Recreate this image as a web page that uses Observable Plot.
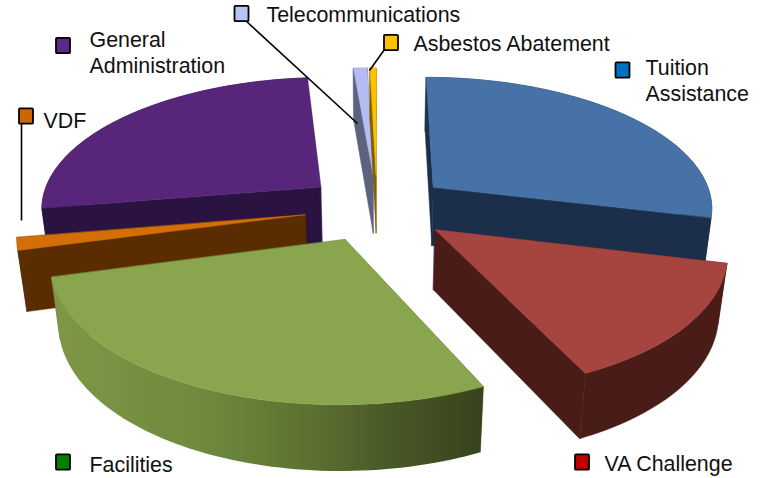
<!DOCTYPE html>
<html>
<head>
<meta charset="utf-8">
<script src="https://cdn.jsdelivr.net/npm/d3@7"></script>
<script src="https://cdn.jsdelivr.net/npm/@observablehq/plot@0.6"></script>
<style>html,body{margin:0;padding:0;background:#fff}svg{display:block}</style>
</head>
<body>
<div id="chart"></div>
<script>
// Data, clockwise from twelve o'clock
const categories = ["Tuition\nAssistance", "VA Challenge", "Facilities", "VDF", "General\nAdministration", "Telecommunications", "Asbestos Abatement"];
const shares = [28.8, 14.2, 27.85, 1.5, 26.3, 0.93, 0.42];

// Styles
const topColors = ["#4672A8", "#A64440", "#89A54E", "#D36F06", "#57267A", "#B4BCF2", "#FFC000"];
const sideColors = ["#1B2E4A", "#491C18", "#5E7432", "#5A2D00", "#2A1340", "#5C6280", "#7F6000"];
const swatchColors = ["#0070C0", "#C00000", "#007F00", "#CC6600", "#5B2A86", "#B9C4F5", "#FFC000"];
const paintOrder = [5, 6, 4, 0, 3, 1, 2];
const shadedSlice = 2;

// Layout of the labels
const labelX = [645, 604, 89, 43, 89, 266, 413];
const labelY = [79.5, 462.5, 463.5, 119, 51.5, 13, 42];
const swatchX = [622.5, 582, 63, 26, 63, 241.5, 391];
const swatchY = [70, 462, 462, 116, 45.5, 13.5, 42.5];
const leaders = [
  {x1: 21, y1: 123, x2: 21, y2: 220},
  {x1: 245, y1: 20, x2: 357, y2: 123},
  {x1: 384, y1: 49, x2: 369, y2: 70}
];

// 3-D pie camera
const cam = {cx: 376.5, cy: 207, R: 281, a: 131, k: 0.145, m: 0.025, T: 61, explode: 0.26};
function project(X, V, z) {
  const s = 1 / (1 - cam.k * V + cam.m * z);
  return {x: cam.cx + cam.R * s * X, y: cam.cy + s * (cam.a * V + cam.T * z)};
}

const total = d3.sum(shares);
const cumulative = d3.cumsum(shares);
const faces = [], shadedRim = [], shadedTop = [];
const addFace = (list, id, pts, fill) => pts.forEach(p => list.push({id, x: p.x, y: p.y, fill}));

paintOrder.forEach(i => {
  const t1 = cumulative[i] / total * 2 * Math.PI;
  const t0 = t1 - shares[i] / total * 2 * Math.PI;
  const mid = (t0 + t1) / 2;
  const tx = cam.explode * Math.sin(mid), tv = -cam.explode * Math.cos(mid);
  const n = Math.max(2, Math.ceil((t1 - t0) * 40));
  const ts = d3.range(n + 1).map(j => t0 + (t1 - t0) * j / n);
  const P = (t, z) => project(tx + Math.sin(t), tv - Math.cos(t), z);
  const tipT = project(tx, tv, 0), tipB = project(tx, tv, 1);
  const rim = [...ts.map(t => P(t, 0)), ...ts.slice().reverse().map(t => P(t, 1))];
  const top = [tipT, ...ts.map(t => P(t, 0))];
  addFace(faces, `${i}-w0`, [tipT, P(t0, 0), P(t0, 1), tipB], sideColors[i]);
  addFace(faces, `${i}-w1`, [tipT, P(t1, 0), P(t1, 1), tipB], sideColors[i]);
  if (i === shadedSlice) {
    addFace(shadedRim, `${i}-r`, rim, "url(#facilitiesSide)");
    addFace(shadedTop, `${i}-t`, top, topColors[i]);
  } else {
    addFace(faces, `${i}-r`, rim, sideColors[i]);
    addFace(faces, `${i}-t`, top, topColors[i]);
  }
});

const labels = categories.map((name, i) => ({name, x: labelX[i], y: labelY[i], sx: swatchX[i], sy: swatchY[i], c: swatchColors[i]}));

const gradient = () => {
  const defs = d3.create("svg:defs");
  const g = defs.append("linearGradient").attr("id", "facilitiesSide")
    .attr("gradientUnits", "userSpaceOnUse")
    .attr("x1", 50).attr("x2", 485).attr("y1", 0).attr("y2", 0);
  [[0, "#7F9746"], [0.35, "#6F8A3E"], [0.6, "#5C7031"], [0.8, "#475626"], [1, "#37431B"]]
    .forEach(([o, c]) => g.append("stop").attr("offset", o).attr("stop-color", c));
  return defs.node();
};
const polygons = (list, opts) => Plot.line(list, {x: "x", y: "y", z: "id", curve: "linear-closed", strokeWidth: 0.5, ...opts});

const plot = Plot.plot({
  width: 761, height: 478, margin: 0,
  x: {type: "linear", domain: [0, 761], range: [0, 761], axis: null},
  y: {type: "linear", domain: [0, 478], range: [0, 478], axis: null},
  style: {background: "#fff", fontFamily: "Liberation Sans, Arial, sans-serif"},
  marks: [
    gradient,
    polygons(faces, {fill: "fill", stroke: "fill"}),
    polygons(shadedRim, {fill: "url(#facilitiesSide)", stroke: "none"}),
    polygons(shadedTop, {fill: "fill", stroke: "fill"}),
    Plot.link(leaders, {x1: "x1", y1: "y1", x2: "x2", y2: "y2", stroke: "#000", strokeWidth: 1.6}),
    Plot.rect(labels, {x1: d => d.sx - 7, x2: d => d.sx + 7, y1: d => d.sy - 7.7, y2: d => d.sy + 7.7, fill: "c", stroke: "#000", strokeWidth: 1.8, r: 1}),
    Plot.text(labels, {x: "x", y: "y", text: "name", textAnchor: "start", fontSize: 21.4, lineHeight: 1.21, fill: "#111"})
  ]
});
document.getElementById("chart").appendChild(plot);
</script>
</body>
</html>
